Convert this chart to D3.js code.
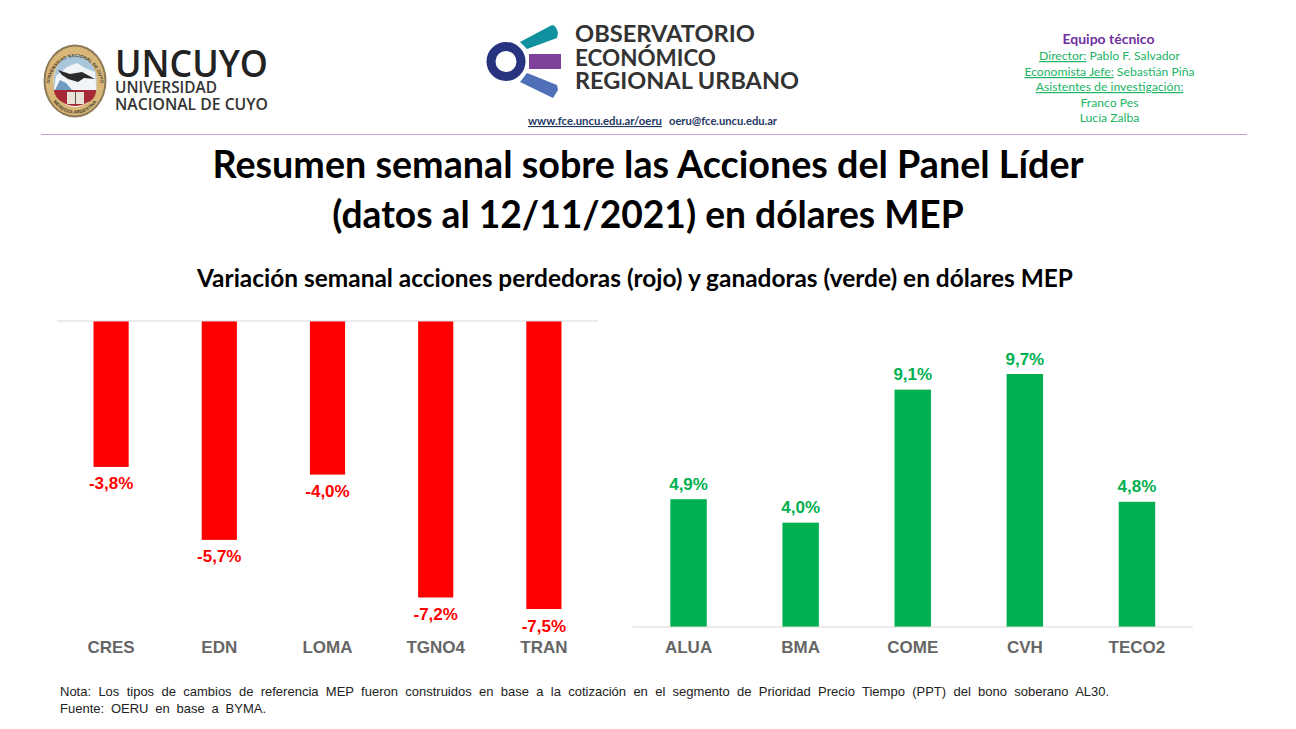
<!DOCTYPE html>
<html>
<head>
<meta charset="utf-8">
<script src="https://cdn.jsdelivr.net/npm/d3@7"></script>
<style>
  html, body { margin: 0; padding: 0; background: #fff; }
  text { font-family: "Liberation Sans", Arial, sans-serif; }
  text.cal { font-family: Lato, "Open Sans", sans-serif; }
  text.open { font-family: "Open Sans", sans-serif; }
</style>
</head>
<body>
<div id="chart"></div>
<script>
// weekly change in MEP dollars
const loserTickers = ["CRES", "EDN", "LOMA", "TGNO4", "TRAN"];
const loserValues = [-3.8, -5.7, -4.0, -7.2, -7.5];
const winnerTickers = ["ALUA", "BMA", "COME", "CVH", "TECO2"];
const winnerValues = [4.9, 4.0, 9.1, 9.7, 4.8];

const width = 1296, height = 729;

const svg = d3.select("#chart").append("svg")
    .attr("width", width)
    .attr("height", height)
    .style("display", "block");

const fmt = v => v.toFixed(1).replace(".", ",") + "%";

function drawPanel(tickers, values, opts) {
    const x = d3.scaleBand().domain(tickers).range(opts.xRange).paddingInner(0.675).paddingOuter(0.3375);
    const y = d3.scaleLinear().domain(opts.yDomain).range(opts.yRange);
    const g = svg.append("g");

    g.selectAll("rect")
        .data(values)
        .enter()
        .append("rect")
        .attr("x", (d, i) => x(tickers[i]))
        .attr("width", x.bandwidth())
        .attr("y", d => Math.min(y(d), y(0)))
        .attr("height", d => Math.abs(y(d) - y(0)))
        .attr("fill", opts.color);

    g.append("line")
        .attr("x1", opts.xRange[0]).attr("x2", opts.xRange[1])
        .attr("y1", y(0)).attr("y2", y(0))
        .attr("stroke", "#d9d9d9").attr("stroke-width", 1);

    g.selectAll("text.val")
        .data(values)
        .enter()
        .append("text")
        .attr("class", "val")
        .attr("x", (d, i) => x(tickers[i]) + x.bandwidth() / 2)
        .attr("y", d => d < 0 ? y(d) + 22.5 : y(d) - 9.5)
        .attr("text-anchor", "middle")
        .style("font-size", "17px")
        .style("font-weight", "bold")
        .style("fill", opts.color)
        .text(fmt);

    g.selectAll("text.tick")
        .data(tickers)
        .enter()
        .append("text")
        .attr("class", "tick")
        .attr("x", d => x(d) + x.bandwidth() / 2)
        .attr("y", 653)
        .attr("text-anchor", "middle")
        .style("font-size", "17px")
        .style("font-weight", "bold")
        .style("fill", "#666")
        .text(d => d);
}

drawPanel(loserTickers, loserValues, {
    xRange: [57, 598], yDomain: [-7.5, 0], yRange: [609, 321], color: "#ff0000"
});
drawPanel(winnerTickers, winnerValues, {
    xRange: [632.5, 1193], yDomain: [0, 9.7], yRange: [627, 374], color: "#00b050"
});

// titles
function label(txt, x, y, size, opts = {}) {
    const t = svg.append("text")
        .attr("class", opts.cls || "cal")
        .attr("x", x).attr("y", y)
        .attr("text-anchor", opts.anchor || "middle")
        .style("font-size", size + "px")
        .style("font-weight", opts.weight || "normal")
        .style("fill", opts.fill || "#000")
        .style("text-decoration", opts.deco || null)
        .style("word-spacing", opts.spacing || null)
        .text(txt);
    if (opts.fit) t.attr("textLength", opts.fit).attr("lengthAdjust", "spacingAndGlyphs");
    return t;
}
label("Resumen semanal sobre las Acciones del Panel Líder", 648, 178, 37.7, { weight: "bold" });
label("(datos al 12/11/2021) en dólares MEP", 648, 228, 37.2, { weight: "bold" });
label("Variación semanal acciones perdedoras (rojo) y ganadoras (verde) en dólares MEP", 635, 287, 24.4, { weight: "bold", fit: 876 });

// footnote
label("Nota: Los tipos de cambios de referencia MEP fueron construidos en base a la cotización en el segmento de Prioridad Precio Tiempo (PPT) del bono soberano AL30.", 60, 695.5, 13, { cls: "arial", anchor: "start", fill: "#222", spacing: "3.7px" });
label("Fuente: OERU en base a BYMA.", 60, 712.5, 13, { cls: "arial", anchor: "start", fill: "#222", spacing: "3.2px" });

// header rule
svg.append("line").attr("x1", 41).attr("x2", 1247).attr("y1", 134.5).attr("y2", 134.5)
    .attr("stroke", "#c9a0dc").attr("stroke-width", 1);

// UNCUYO seal
const seal = svg.append("g");
seal.append("ellipse").attr("cx", 75).attr("cy", 81).attr("rx", 31.5).attr("ry", 36.5).attr("fill", "#8d7a58");
seal.append("ellipse").attr("cx", 75).attr("cy", 81).attr("rx", 29.5).attr("ry", 34.5).attr("fill", "#d9b778");
seal.append("ellipse").attr("cx", 75).attr("cy", 81).attr("rx", 21.5).attr("ry", 26).attr("fill", "#fff");
seal.append("path").attr("d", "M54 77 A21.5 26 0 0 1 96.5 77 L96.5 90 L53.5 90 Z").attr("fill", "#a9c6da");
seal.append("path").attr("d", "M54 90 L56 76 L67 67 L77 63 L85 68 L95 72 L96.5 90 Z").attr("fill", "#f2f5f7");
seal.append("path").attr("d", "M55 90 L60 80 L66 83 L72 90 Z").attr("fill", "#6f9cc0");
seal.append("path").attr("d", "M58 70 L70 74 L82 72 L95 79 L84 78 L78 82 L68 79 L62 75 Z").attr("fill", "#2b2b2b");
seal.append("path").attr("d", "M53.8 90 L96.3 90 Q95 100 88 102 Q75 110 62 102 Q55 98 53.8 90 Z").attr("fill", "#a62a36");
seal.append("rect").attr("x", 67).attr("y", 92).attr("width", 17).attr("height", 12).attr("fill", "#e9e2d6");
seal.append("line").attr("x1", 75.5).attr("x2", 75.5).attr("y1", 92).attr("y2", 104).attr("stroke", "#555").attr("stroke-width", 1);
// ring lettering of the seal
svg.append("defs").append("path").attr("id", "sealTop").attr("d", "M49 88 A26 31 0 0 1 101 88");
svg.append("defs").append("path").attr("id", "sealBottom").attr("d", "M51 97 A26 27 0 0 0 99 97");
seal.append("text").attr("text-anchor", "middle").style("font-size", "4.6px").style("font-weight", "bold").style("fill", "#4a3f2c")
    .append("textPath").attr("href", "#sealTop").attr("startOffset", "50%").text("UNIVERSIDAD NACIONAL DE CUYO");
seal.append("text").attr("text-anchor", "middle").style("font-size", "4.6px").style("font-weight", "bold").style("fill", "#4a3f2c")
    .append("textPath").attr("href", "#sealBottom").attr("startOffset", "50%").text("MENDOZA ARGENTINA");

label("UNCUYO", 115, 77, 38, { cls: "open", anchor: "start", fill: "#222", fit: 153, weight: 600 });
label("UNIVERSIDAD", 115, 93, 15.5, { cls: "open", anchor: "start", fill: "#333", fit: 102, weight: 600 });
label("NACIONAL DE CUYO", 115, 110, 15.5, { cls: "open", anchor: "start", fill: "#333", fit: 153, weight: 600 });

// OERU logo
const oeru = svg.append("g");
oeru.append("circle").attr("cx", 506).attr("cy", 61.5).attr("r", 15)
    .attr("fill", "#fff").attr("stroke", "#27337f").attr("stroke-width", 9);
oeru.append("path").attr("d", "M520 42 L552 25 Q556 25 558 33 L557 38 L527 49 Z").attr("fill", "#11909f");
oeru.append("rect").attr("x", 529).attr("y", 54).attr("width", 32).attr("height", 15).attr("fill", "#7f4199");
oeru.append("path").attr("d", "M527 73 L557 85 L558 90 L553 98 L520 82 Z").attr("fill", "#4f70b8");
label("OBSERVATORIO", 575, 41.5, 23.4, { anchor: "start", weight: "bold", fill: "#333", fit: 180 });
label("ECONÓMICO", 575, 65.5, 23.4, { anchor: "start", weight: "bold", fill: "#333", fit: 141 });
label("REGIONAL URBANO", 575, 89, 23.4, { anchor: "start", weight: "bold", fill: "#333", fit: 224 });
label("www.fce.uncu.edu.ar/oeru", 528, 125, 11, { anchor: "start", weight: "bold", fill: "#1f3864", deco: "underline", fit: 134 });
label("oeru@fce.uncu.edu.ar", 669, 125, 11, { anchor: "start", weight: "bold", fill: "#1f3864", fit: 108 });

// team block
label("Equipo técnico", 1108.5, 44, 14, { weight: "bold", fill: "#7030a0" });
const teamLine = (y, u, rest) => {
    const t = svg.append("text").attr("class", "cal").attr("x", 1109.5).attr("y", y)
        .attr("text-anchor", "middle").style("font-size", "12.2px").style("fill", "#22b566");
    if (u) t.append("tspan").style("text-decoration", "underline").text(u);
    if (rest) t.append("tspan").text(rest);
};
teamLine(60, "Director:", " Pablo F. Salvador");
teamLine(76, "Economista Jefe:", " Sebastián Piña");
teamLine(91, "Asistentes de investigación:", "");
teamLine(107, "", "Franco Pes");
teamLine(122, "", "Lucía Zalba");
</script>
</body>
</html>
